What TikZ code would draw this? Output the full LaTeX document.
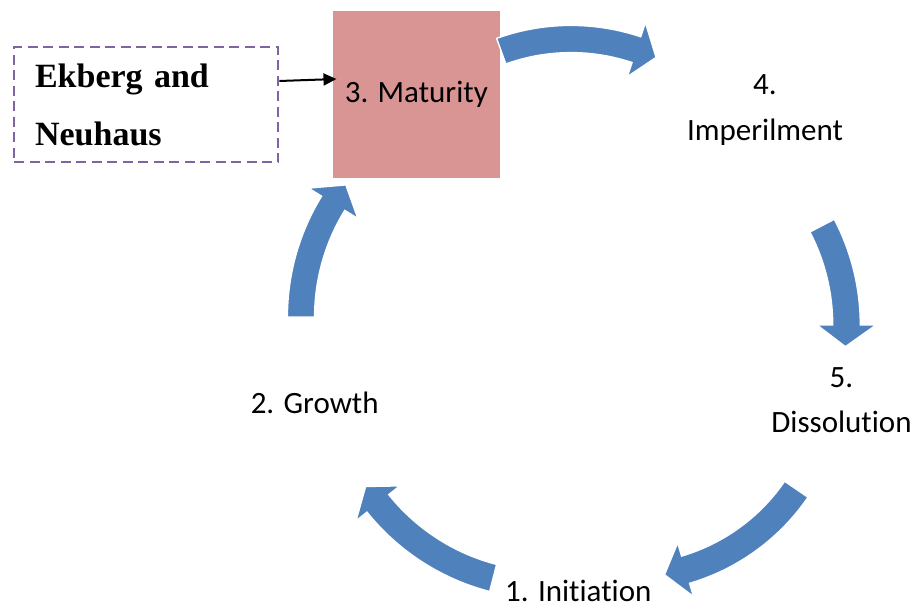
\documentclass[tikz,border=0pt]{standalone}
\usepackage{fontspec}
\setmainfont{Carlito}[Ligatures=NoCommon]
\newfontfamily\notefont{Liberation Serif}
\usetikzlibrary{arrows.meta}

\definecolor{cycleblue}{HTML}{4F81BD}
\definecolor{stagepink}{HTML}{D99594}
\definecolor{notepurple}{HTML}{8064A2}

% Curved block arrow on a circle:
% #1,#2 centre; #3 mid radius; #4 half shaft width;
% #5 tail angle; #6 angle of the head base; #7 tip angle; #8 half head width
\newcommand{\cyclearrow}[8]{%
  \path[cyclearrowstyle]
    plot[domain=#5:#6,samples=40] ({#1+(#3+#4)*cos(\x)},{#2+(#3+#4)*sin(\x)})
    -- ({#1+(#3+#8)*cos(#6)},{#2+(#3+#8)*sin(#6)})
    -- ({#1+#3*cos(#7)},{#2+#3*sin(#7)})
    -- ({#1+(#3-#8)*cos(#6)},{#2+(#3-#8)*sin(#6)})
    -- plot[domain=#5:#6,samples=40] ({#1+(#3-#4)*cos((#5)+(#6)-\x)},{#2+(#3-#4)*sin((#5)+(#6)-\x)})
    -- cycle;}

\tikzset{
  cyclearrowstyle/.style={fill=cycleblue, draw=white, line width=1.4pt, line join=miter},
  stagelabel/.style={inner sep=0pt, font=\fontsize{31}{45.5}\selectfont, align=center},
  stagebox/.style={fill=stagepink, minimum width=167.3pt, minimum height=166.7pt, inner sep=0pt,
    font=\fontsize{31}{45.5}\selectfont},
  notebox/.style={draw=notepurple, line width=1.9pt, dash pattern=on 10pt off 5.5pt,
    minimum height=115pt, inner xsep=21pt, text width=222.3pt, align=left,
    font=\notefont\bfseries\fontsize{34}{58.4}\selectfont},
  pointer/.style={draw=black, line width=2pt, -{Triangle[length=13pt,width=12pt]}}
}

\begin{document}
\begin{tikzpicture}[x=1pt, y=-1pt]
  \useasboundingbox (0,0) rectangle (915,607);

  % stage 3 box and the note that points at it
  \node[stagebox] (n3) at (416.3,94.3) {3. Maturity};
  \node[notebox] (ekb) at (146.2,104.8) {Ekberg and\\Neuhaus};
  \draw[pointer] ([yshift=23.8pt]ekb.east) -- ([xshift=4pt,yshift=15.3pt]n3.west);

  % remaining stages
  \node[stagelabel, anchor=base] (n1) at (578.3,601) {1. Initiation};
  \node[stagelabel, anchor=base] (n2) at (314.7,413.3) {2. Growth};
  \node[stagelabel] (n4) at (765,110) {4.\\Imperilment};
  \node[stagelabel] (n5) at (841.5,400.3) {5.\\Dissolution};

  % cycle arrows
  \cyclearrow{571}{245}{206}{13.6}{-109.8}{-71.5}{-65.6}{28.5}     % 3 -> 4
  \cyclearrow{632}{325}{214.5}{13.8}{-27.6}{0}{5.8}{29.5}          % 4 -> 5
  \cyclearrow{628}{374}{204}{14.2}{34.4}{73.6}{79.7}{28}           % 5 -> 1
  \cyclearrow{547.6}{367.4}{217.5}{14}{104.5}{141.3}{146.8}{28}    % 1 -> 2
  \cyclearrow{518}{317}{217}{13.6}{180}{211.6}{217.5}{29}          % 2 -> 3
\end{tikzpicture}
\end{document}
